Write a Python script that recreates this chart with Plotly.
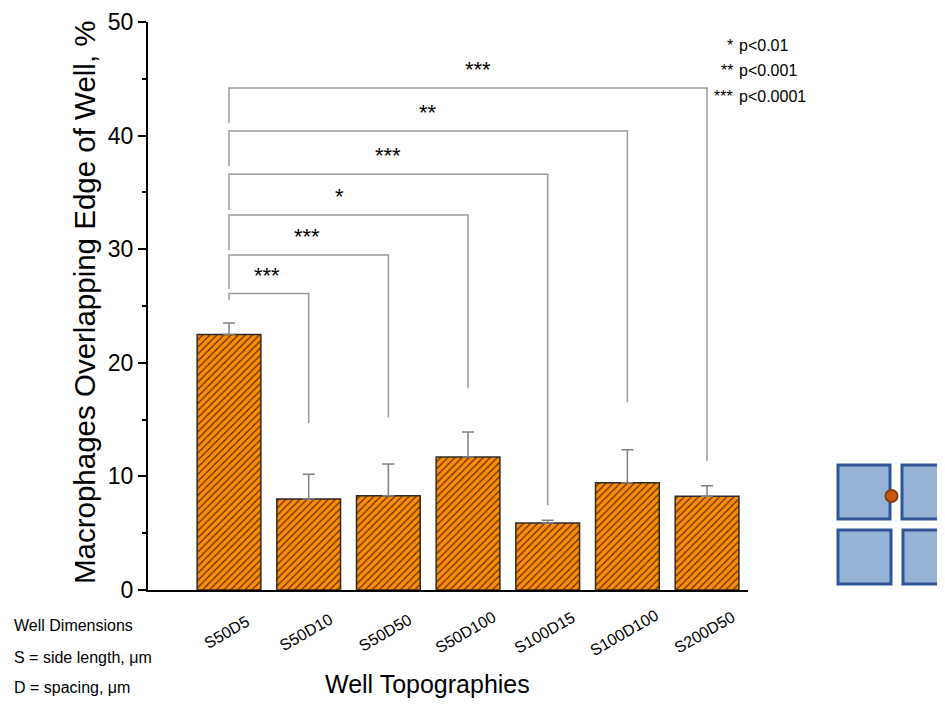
import plotly.graph_objects as go

# ---------------- data ----------------
categories = ["S50D5", "S50D10", "S50D50", "S50D100", "S100D15", "S100D100", "S200D50"]
overlap_pct = [22.5, 8.0, 8.3, 11.7, 5.9, 9.45, 8.25]
sem_pct = [1.0, 2.2, 2.8, 2.2, 0.25, 2.9, 0.93]

# significance brackets (category index from S50D5 to target)
bracket_from = [0, 0, 0, 0, 0, 0]
bracket_to = [1, 2, 3, 4, 5, 6]
bracket_level = [26.1, 29.5, 33.0, 36.6, 40.4, 44.2]
bracket_left_end = [25.5, 26.5, 29.9, 33.45, 37.3, 41.1]
bracket_right_end = [14.7, 15.2, 17.75, 7.45, 16.55, 11.35]
bracket_label = ["***", "***", "*", "***", "**", "***"]
bracket_label_x = [0.48, 0.98, 1.39, 2.0, 2.5, 3.12]

legend_stars = ["*", "**", "***"]
legend_text = ["p<0.01", "p<0.001", "p<0.0001"]

notes = ["Well Dimensions", "S = side length, μm", "D = spacing, μm"]

FONT = "Arial, Liberation Sans, sans-serif"

# ---------------- layout geometry (page pixels) ----------------
BODY = 8                      # default body margin of the html page
W, H = 945 - BODY, 708 - 2 * BODY
PLOT_L, PLOT_R, PLOT_T, PLOT_B = 148, 748, 22, 590   # page pixel box of plot area
L = PLOT_L - BODY
T = PLOT_T - BODY
R = W - (PLOT_R - BODY)
B = H - (PLOT_B - BODY)
PW, PH = PLOT_R - PLOT_L, PLOT_B - PLOT_T


def px_x(px):
    return (px - PLOT_L) / PW


def px_y(py):
    return (PLOT_B - py) / PH


fig = go.Figure()

fig.add_trace(go.Bar(
    x=list(range(len(categories))),
    y=overlap_pct,
    width=0.8,
    marker=dict(
        color="#FF8C00",
        line=dict(color="#2b2b2b", width=1.5),
        pattern=dict(shape="/", fgcolor="#5a2e00", bgcolor="#FF8C00",
                     size=5, solidity=0.25, fillmode="replace"),
    ),
    error_y=dict(type="data", array=sem_pct, arrayminus=[0] * len(sem_pct),
                 symmetric=False, color="#808080", thickness=1.5, width=6),
    showlegend=False,
))

# brackets
for i in range(len(bracket_to)):
    xs = [bracket_from[i], bracket_from[i], bracket_to[i], bracket_to[i]]
    ys = [bracket_left_end[i], bracket_level[i], bracket_level[i], bracket_right_end[i]]
    fig.add_trace(go.Scatter(x=xs, y=ys, mode="lines",
                             line=dict(color="#9a9a9a", width=1.5),
                             hoverinfo="skip", showlegend=False))

annotations = []
for i in range(len(bracket_label)):
    annotations.append(dict(
        x=bracket_label_x[i], y=bracket_level[i], xref="x", yref="y",
        text=bracket_label[i], showarrow=False, xanchor="center", yanchor="bottom",
        yshift=4, font=dict(family=FONT, size=22, color="black")))

# category tick labels (rotated, centred under bars)
for i, c in enumerate(categories):
    annotations.append(dict(
        x=i, y=px_y(632), xref="x", yref="paper", text=c, showarrow=False,
        xanchor="center", yanchor="middle",
        textangle=-30, xshift=-3, font=dict(family=FONT, size=16, color="black")))

# significance legend
legend_y = [45, 70, 96]
for s, t, yy in zip(legend_stars, legend_text, legend_y):
    annotations.append(dict(x=px_x(735), y=px_y(yy), xref="paper", yref="paper",
                            text=s, showarrow=False, xanchor="right", yanchor="middle",
                            font=dict(family=FONT, size=16, color="black")))
    annotations.append(dict(x=px_x(737), y=px_y(yy), xref="paper", yref="paper",
                            text=t, showarrow=False, xanchor="left", yanchor="middle",
                            font=dict(family=FONT, size=16, color="black")))

# notes at lower left
for t, yy in zip(notes, [625, 657, 687]):
    annotations.append(dict(x=px_x(12), y=px_y(yy), xref="paper", yref="paper",
                            text=t, showarrow=False, xanchor="left", yanchor="middle",
                            font=dict(family=FONT, size=16, color="black")))

# axis titles
annotations.append(dict(x=px_x(427), y=px_y(684), xref="paper", yref="paper",
                        text="Well Topographies", showarrow=False,
                        xanchor="center", yanchor="middle",
                        font=dict(family=FONT, size=25, color="black")))
annotations.append(dict(x=px_x(84), y=px_y(302), xref="paper", yref="paper",
                        text="Macrophages Overlapping Edge of Well, %",
                        showarrow=False, textangle=-90,
                        xanchor="center", yanchor="middle",
                        font=dict(family=FONT, size=29.5, color="black")))

# well icon at right
shapes = []
squares = [(838, 465, 890, 519), (902, 465, 956, 519),
           (838, 530, 891, 584), (903, 530, 957, 584)]
for x0, y0, x1, y1 in squares:
    shapes.append(dict(type="rect", xref="paper", yref="paper",
                       x0=px_x(x0), x1=px_x(x1), y0=px_y(y1), y1=px_y(y0),
                       fillcolor="#95B3D7", line=dict(color="#2F5597", width=3)))
shapes.append(dict(type="circle", xref="paper", yref="paper",
                   x0=px_x(885.5), x1=px_x(897.5), y0=px_y(502), y1=px_y(490),
                   fillcolor="#C55A11", line=dict(color="#843C0C", width=2)))

fig.update_layout(
    width=W, height=H,
    margin=dict(l=L, r=R, t=T, b=B, pad=0, autoexpand=False),
    plot_bgcolor="white", paper_bgcolor="white",
    annotations=annotations, shapes=shapes,
    xaxis=dict(range=[-1.017, 6.514], showticklabels=False, ticks="",
               showgrid=False, zeroline=False, showline=True, automargin=False,
               linecolor="black", linewidth=2),
    yaxis=dict(range=[0, 50], tickvals=[0, 10, 20, 30, 40, 50],
               ticks="outside", ticklen=8, tickwidth=2, tickcolor="black",
               minor=dict(dtick=5, ticks="outside", ticklen=4, tickwidth=2,
                          tickcolor="black", showgrid=False),
               showgrid=False, zeroline=False, showline=True, automargin=False,
               linecolor="black", linewidth=2,
               tickfont=dict(family=FONT, size=23, color="black")),
    font=dict(family=FONT),
)

fig.write_html("out.html")
